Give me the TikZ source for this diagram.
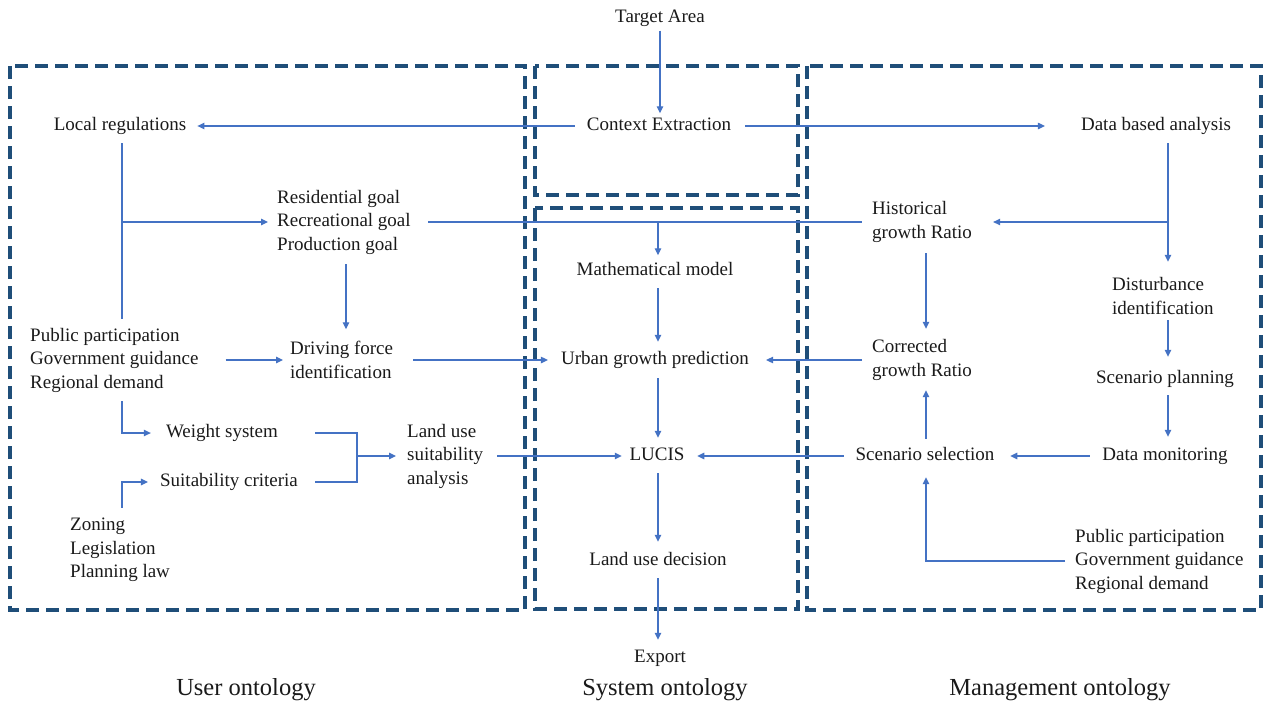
\documentclass[tikz,border=0pt]{standalone}
\usepackage{fontspec}
\setmainfont{Liberation Serif}
\usetikzlibrary{arrows.meta,calc}
\definecolor{boxblue}{RGB}{31,78,121}
\definecolor{arrblue}{RGB}{68,114,196}
\definecolor{txtc}{RGB}{26,26,26}
\begin{document}
\begin{tikzpicture}[x=1pt,y=-1pt,
  lbl/.style={inner sep=4pt, text height=13pt, text depth=4pt, font=\fontsize{19}{23.5}\selectfont, text=txtc},
  mlbl/.style={inner sep=4pt, align=left, anchor=west, font=\fontsize{19}{23.5}\selectfont, text=txtc},
  big/.style={inner sep=0pt, font=\fontsize{24.5}{28}\selectfont, text=txtc},
  panel/.style={draw=boxblue, line width=3.5pt, dash pattern=on 13pt off 7pt},
  arr/.style={draw=arrblue, line width=1.2pt, -{Triangle[length=7pt,width=6.5pt]}},
  ln/.style={draw=arrblue, line width=1.2pt}]
\useasboundingbox (0,0) rectangle (1264,704);
\fill[white] (0,0) rectangle (1264,704);

% panels
\draw[panel] (10,66) rectangle (525,610);
\draw[panel] (535,66) rectangle (798,195);
\draw[panel] (535,208) rectangle (798,609);
\draw[panel] (807,66) rectangle (1261,610);

% helper coordinates
\coordinate (lx) at (122,0);
\coordinate (cx) at (658,0);
\coordinate (mx) at (926,0);
\coordinate (rx) at (1168,0);
\coordinate (gx) at (346,0);
\coordinate (sx) at (315,0);
\coordinate (jx) at (357,456);

% nodes
\node[lbl] (tgt) at (660,18) {Target Area};
\node[lbl] (ctx) at (659,126) {Context Extraction};
\node[lbl] (locreg) at (120,126) {Local regulations};
\node[lbl] (data) at (1156,126) {Data based analysis};
\node[mlbl] (goals) at (273,222) {Residential goal\\Recreational goal\\Production goal};
\node[mlbl] (hist) at (868,222) {Historical\\growth Ratio};
\node[lbl] (math) at (655,271) {Mathematical model};
\node[mlbl] (dist) at (1108,296) {Disturbance\\identification};
\node[mlbl] (pp1) at (26,360) {Public participation\\Government guidance\\Regional demand};
\node[mlbl] (drive) at (286,360) {Driving force\\identification};
\node[lbl] (ugp) at (655,360) {Urban growth prediction};
\node[mlbl] (corr) at (868,360) {Corrected\\growth Ratio};
\node[lbl] (scplan) at (1165,379) {Scenario planning};
\node[lbl] (weight) at (222,433) {Weight system};
\node[mlbl] (land) at (403,456) {Land use\\suitability\\analysis};
\node[lbl] (suit) at (229,482) {Suitability criteria};
\node[lbl] (lucis) at (657,456) {LUCIS};
\node[lbl] (scsel) at (925,456) {Scenario selection};
\node[lbl] (datamon) at (1165,456) {Data monitoring};
\node[mlbl] (zoning) at (66,550) {Zoning\\Legislation\\Planning law};
\node[mlbl] (pp2) at (1071,561) {Public participation\\Government guidance\\Regional demand};
\node[lbl] (lud) at (658,561) {Land use decision};
\node[lbl] (export) at (660,658) {Export};
\node[big] (uo) at (246,690) {User ontology};
\node[big] (so) at (665,690) {System ontology};
\node[big] (mo) at (1060,690) {Management ontology};

% connectors
\draw[arr] (tgt.south) -- (tgt.south |- ctx.north);
\draw[arr] ($(ctx.west)+(-8,0)$) -- ($(locreg.east)+(7,0)$);
\draw[arr] ($(ctx.east)+(10,0)$) -- ($(data.west)+(-32,0)$);
\draw[ln] ($(lx |- locreg.south)+(0,4.5)$) -- ($(lx |- pp1.north)+(0,-5)$);
\draw[arr] (lx |- goals.west) -- ($(goals.west)+(-5,0)$);
\draw[ln] ($(goals.east)+(13.5,0)$) -- ($(hist.west)+(-6,0)$);
\draw[arr] (cx |- goals.east) -- ($(cx |- math.north)+(0,-3)$);
\draw[arr] ($(gx |- goals.south)+(0,6)$) -- ($(gx |- drive.north)+(0,-8)$);
\draw[arr] ($(pp1.east)+(23,0)$) -- ($(drive.west)+(-3,0)$);
\draw[arr] ($(drive.east)+(16,0)$) -- ($(drive.east -| ugp.west)+(-9,0)$);
\draw[arr] ($(corr.west)+(-6,0)$) -- ($(corr.west -| ugp.east)+(13,0)$);
\draw[arr] ($(cx |- math.south)+(0,4.5)$) -- ($(cx |- ugp.north)+(0,-5.5)$);
\draw[arr] ($(cx |- ugp.south)+(0,5.5)$) -- ($(cx |- lucis.north)+(0,-5.5)$);
\draw[arr] ($(cx |- lucis.south)+(0,4.5)$) -- ($(cx |- lud.north)+(0,-6.5)$);
\draw[arr] ($(cx |- lud.south)+(0,4.5)$) -- ($(cx |- export.north)+(0,-5.5)$);
\draw[arr] ($(lx |- pp1.south)+(0,5)$) |- ($(weight.west)+(-11,0)$);
\draw[arr] ($(lx |- zoning.north)+(0,-6)$) |- ($(suit.west)+(-8,0)$);
\draw[ln] (sx |- weight.east) -| (jx);
\draw[ln] (sx |- suit.east) -| (jx);
\draw[arr] (jx) -- ($(jx -| land.west)+(-7,0)$);
\draw[arr] ($(land.east)+(10,0)$) -- ($(lucis.west)+(-3.6,0)$);
\draw[arr] ($(scsel.west)+(-7.7,0)$) -- ($(lucis.east)+(8.6,0)$);
\draw[arr] ($(datamon.west)+(-8.5,0)$) -- ($(scsel.east)+(11.7,0)$);
\draw[arr] ($(mx |- scsel.north)+(0,-4.5)$) -- ($(mx |- corr.south)+(0,5.6)$);
\draw[arr] ($(mx |- hist.south)+(0,6.7)$) -- ($(mx |- corr.north)+(0,-6.6)$);
\draw[arr] ($(rx |- data.south)+(0,4.5)$) -- ($(rx |- dist.north)+(0,-11.6)$);
\draw[arr] (rx |- hist.east) -- ($(hist.east)+(17,0)$);
\draw[arr] ($(rx |- dist.south)+(0,1.6)$) -- ($(rx |- scplan.north)+(0,-9.5)$);
\draw[arr] ($(rx |- scplan.south)+(0,3.5)$) -- ($(rx |- datamon.north)+(0,-6.5)$);
\draw[arr] ($(pp2.west)+(-6,0)$) -| ($(mx |- scsel.south)+(0,8.5)$);
\end{tikzpicture}
\end{document}
